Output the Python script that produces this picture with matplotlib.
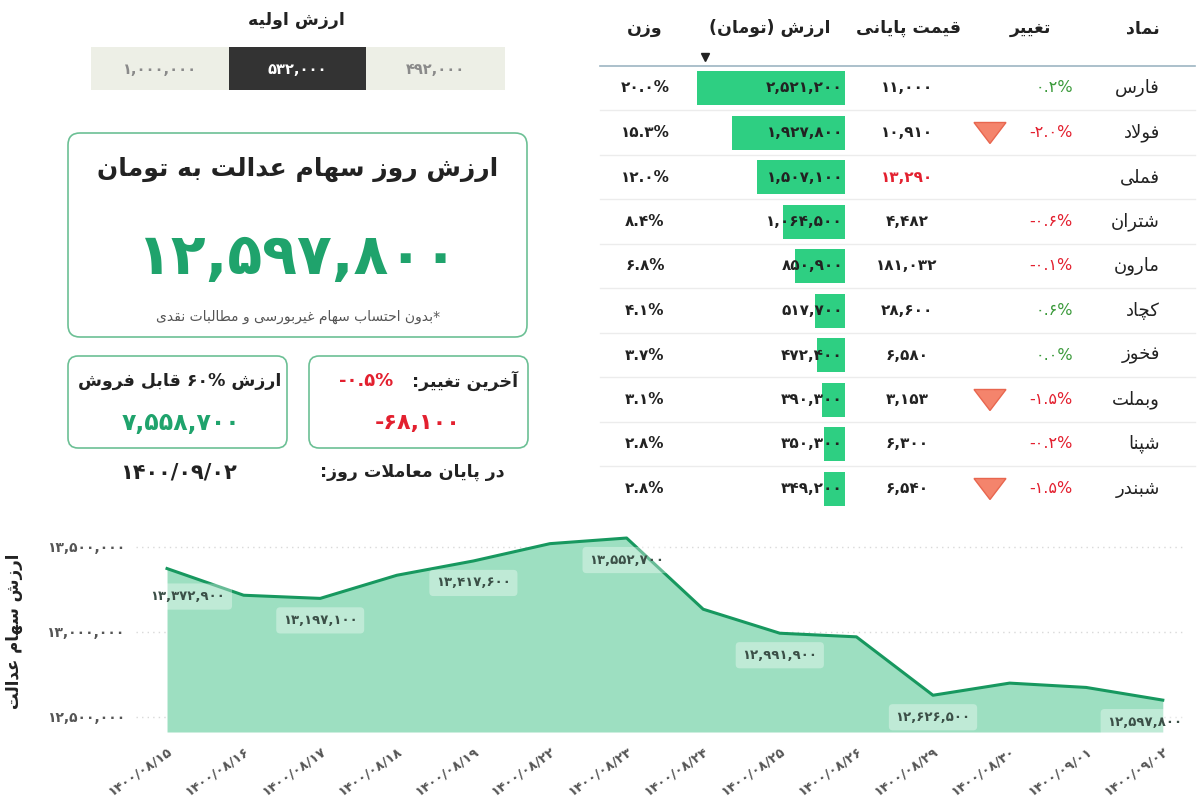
import matplotlib
matplotlib.use('Agg')
import matplotlib.pyplot as plt
from matplotlib.patches import FancyBboxPatch, Rectangle, Polygon

# ---------------- data ----------------
initial_title = 'ارزش اولیه'
initial_values = [1000000, 532000, 492000]
selected_initial = 532000

card_title = 'ارزش روز سهام عدالت به تومان'
total_value = 12597800
footnote = '*بدون احتساب سهام غیربورسی و مطالبات نقدی'
sellable_title = 'ارزش ۶۰% قابل فروش'
sellable_value = 7558700
last_change_title = 'آخرین تغییر:'
last_change_pct = -0.5
last_change_value = -68100
end_of_day_label = 'در پایان معاملات روز:'
end_of_day_date = '1400/09/02'

table_headers = ['نماد', 'تغییر', 'قیمت پایانی', 'ارزش (تومان)', 'وزن']
symbols = ['فارس', 'فولاد', 'فملی', 'شتران', 'مارون', 'کچاد', 'فخوز', 'وبملت', 'شپنا', 'شبندر']
changes = [0.2, -2.0, None, -0.6, -0.1, 0.6, 0.0, -1.5, -0.2, -1.5]
prices = [11000, 10910, 13290, 4482, 181032, 28600, 6580, 3153, 6300, 6540]
values = [2521200, 1927800, 1507100, 1064500, 850900, 517700, 472400, 390300, 350300, 349200]
weights = [20.0, 15.3, 12.0, 8.4, 6.8, 4.1, 3.7, 3.1, 2.8, 2.8]
alert = [False, True, False, False, False, False, False, True, False, True]
price_red = [False, False, True, False, False, False, False, False, False, False]

dates = ['1400/08/15', '1400/08/16', '1400/08/17', '1400/08/18', '1400/08/19', '1400/08/22',
         '1400/08/23', '1400/08/24', '1400/08/25', '1400/08/26', '1400/08/29', '1400/08/30',
         '1400/09/01', '1400/09/02']
chart_values = [13372900, 13215700, 13197100, 13333300, 13417600, 13519600, 13552700,
                13133300, 12991900, 12970600, 12626500, 12698000, 12672500, 12597800]
labeled_points = [0, 2, 4, 6, 8, 10, 13]
y_label = 'ارزش سهام عدالت'
y_ticks = [12500000, 13000000, 13500000]

# ---------------- Persian text helpers ----------------
FA = str.maketrans('0123456789', '۰۱۲۳۴۵۶۷۸۹')


def fa(s):
    return str(s).translate(FA)


def fnum(n):
    return fa(f'{n:,}')


FORMS = {
    'ا': ('\uFE8D', '\uFE8E', None, None), 'آ': ('\uFE81', '\uFE82', None, None),
    'ب': ('\uFE8F', '\uFE90', '\uFE91', '\uFE92'), 'پ': ('\uFB56', '\uFB57', '\uFB58', '\uFB59'),
    'ت': ('\uFE95', '\uFE96', '\uFE97', '\uFE98'), 'ث': ('\uFE99', '\uFE9A', '\uFE9B', '\uFE9C'),
    'ج': ('\uFE9D', '\uFE9E', '\uFE9F', '\uFEA0'), 'چ': ('\uFB7A', '\uFB7B', '\uFB7C', '\uFB7D'),
    'ح': ('\uFEA1', '\uFEA2', '\uFEA3', '\uFEA4'), 'خ': ('\uFEA5', '\uFEA6', '\uFEA7', '\uFEA8'),
    'د': ('\uFEA9', '\uFEAA', None, None), 'ذ': ('\uFEAB', '\uFEAC', None, None),
    'ر': ('\uFEAD', '\uFEAE', None, None), 'ز': ('\uFEAF', '\uFEB0', None, None),
    'ژ': ('\uFB8A', '\uFB8B', None, None),
    'س': ('\uFEB1', '\uFEB2', '\uFEB3', '\uFEB4'), 'ش': ('\uFEB5', '\uFEB6', '\uFEB7', '\uFEB8'),
    'ص': ('\uFEB9', '\uFEBA', '\uFEBB', '\uFEBC'), 'ض': ('\uFEBD', '\uFEBE', '\uFEBF', '\uFEC0'),
    'ط': ('\uFEC1', '\uFEC2', '\uFEC3', '\uFEC4'), 'ظ': ('\uFEC5', '\uFEC6', '\uFEC7', '\uFEC8'),
    'ع': ('\uFEC9', '\uFECA', '\uFECB', '\uFECC'), 'غ': ('\uFECD', '\uFECE', '\uFECF', '\uFED0'),
    'ف': ('\uFED1', '\uFED2', '\uFED3', '\uFED4'), 'ق': ('\uFED5', '\uFED6', '\uFED7', '\uFED8'),
    'ک': ('\uFB8E', '\uFB8F', '\uFB90', '\uFB91'), 'گ': ('\uFB92', '\uFB93', '\uFB94', '\uFB95'),
    'ل': ('\uFEDD', '\uFEDE', '\uFEDF', '\uFEE0'), 'م': ('\uFEE1', '\uFEE2', '\uFEE3', '\uFEE4'),
    'ن': ('\uFEE5', '\uFEE6', '\uFEE7', '\uFEE8'), 'ه': ('\uFEE9', '\uFEEA', '\uFEEB', '\uFEEC'),
    'و': ('\uFEED', '\uFEEE', None, None), 'ی': ('\uFBFC', '\uFBFD', '\uFBFE', '\uFBFF'),
}
LTR = set('0123456789۰۱۲۳۴۵۶۷۸۹.,%/-')
MIRROR = {'(': ')', ')': '('}


def shape(s):
    toks = []
    i = 0
    while i < len(s):
        c = s[i]
        if c == 'ل' and i + 1 < len(s) and s[i + 1] in ('ا', 'آ'):
            toks.append('LA' if s[i + 1] == 'ا' else 'LAA')
            i += 2
        else:
            toks.append(c)
            i += 1
    out = []
    for k, t in enumerate(toks):
        prev = toks[k - 1] if k > 0 else None
        nxt = toks[k + 1] if k + 1 < len(toks) else None
        prev_j = prev in FORMS and FORMS[prev][2] is not None
        if t in ('LA', 'LAA'):
            iso, fin = ('\uFEFB', '\uFEFC') if t == 'LA' else ('\uFEF5', '\uFEF6')
            out.append(fin if prev_j else iso)
            continue
        if t not in FORMS:
            out.append(t)
            continue
        f = FORMS[t]
        next_j = f[2] is not None and (nxt in FORMS or nxt in ('LA', 'LAA'))
        if prev_j and next_j:
            out.append(f[3])
        elif prev_j:
            out.append(f[1])
        elif next_j:
            out.append(f[2])
        else:
            out.append(f[0])
    return out


def rtl(s):
    g = shape(s)
    runs = []
    for c in g:
        if c in LTR:
            if runs and runs[-1][0] == 'L':
                runs[-1][1].append(c)
            else:
                runs.append(['L', [c]])
        else:
            runs.append(['R', [c]])
    out = []
    for typ, cs in reversed(runs):
        if typ == 'L':
            out.extend(cs)
        else:
            out.extend(MIRROR.get(c, c) for c in cs)
    return ''.join(out)


# ---------------- colours ----------------
GREEN = '#1fa36c'
RED = '#e3202f'
BAR = '#2ecf82'
POS = '#3b9a3b'
DARK = '#222222'
CARD_EDGE = '#6cc095'

plt.rcParams['font.family'] = ['DejaVu Sans']
fig = plt.figure(figsize=(12, 8), dpi=100)
fig.patch.set_facecolor('white')

ax0 = fig.add_axes([0, 0, 1, 1])
ax0.set_xlim(0, 1200)
ax0.set_ylim(800, 0)
ax0.axis('off')

# ---------- initial value selector ----------
ax0.text(296, 20, rtl(initial_title), ha='center', va='center', fontsize=12.5, fontweight='bold', color=DARK)
seg_x = [91, 229, 366]
seg_w = [138, 137, 139]
for x, w, v in zip(seg_x, seg_w, initial_values):
    sel = v == selected_initial
    ax0.add_patch(Rectangle((x, 47), w, 43, facecolor='#333333' if sel else '#edefe6', edgecolor='none'))
    ax0.text(x + w / 2, 69, fnum(v), ha='center', va='center', fontsize=10.5,
             fontweight='bold', color='white' if sel else '#8a8a8a')

# ---------- main card ----------
ax0.add_patch(FancyBboxPatch((68, 133), 459, 204, boxstyle='round,pad=0,rounding_size=12',
                             facecolor='white', edgecolor=CARD_EDGE, linewidth=1.2))
ax0.text(298, 169, rtl(card_title), ha='center', va='center', fontsize=18, fontweight='bold', color=DARK)
ax0.text(298, 259, fnum(total_value), ha='center', va='center', fontsize=41, fontweight='bold', color=GREEN)
ax0.text(298, 317, rtl(footnote), ha='center', va='center', fontsize=10, color='#555555')

# ---------- small cards ----------
for x in (68, 309):
    ax0.add_patch(FancyBboxPatch((x, 356), 219, 92, boxstyle='round,pad=0,rounding_size=10',
                                 facecolor='white', edgecolor=CARD_EDGE, linewidth=1.2))
ax0.text(180, 381, rtl(sellable_title), ha='center', va='center', fontsize=12.5, fontweight='bold', color=DARK)
ax0.text(181, 423, fnum(sellable_value), ha='center', va='center', fontsize=17, fontweight='bold', color=GREEN)
ax0.text(518, 381, rtl(last_change_title), ha='right', va='center', fontsize=12.5, fontweight='bold', color=DARK)
ax0.text(393, 381, fa(f'{last_change_pct:.1f}%'), ha='right', va='center', fontsize=13, fontweight='bold', color=RED)
ax0.text(418, 423, fnum(last_change_value), ha='center', va='center', fontsize=16, fontweight='bold', color=RED)

ax0.text(178, 472, fa(end_of_day_date), ha='center', va='center', fontsize=15, fontweight='bold', color=DARK)
ax0.text(505, 472, rtl(end_of_day_label), ha='right', va='center', fontsize=12.5, fontweight='bold', color=DARK)

# ---------- table ----------
ROW0 = 88
ROWH = 44.5
head_x = [1160, 1030, 908, 770, 645]
head_ha = ['right', 'center', 'center', 'center', 'center']
for t, x, ha in zip(table_headers, head_x, head_ha):
    ax0.text(x, 28, rtl(t), ha=ha, va='center', fontsize=12.5, fontweight='bold', color=DARK)
ax0.plot([705], [57], marker='v', markersize=6, color=DARK)
ax0.plot([600, 1195], [66, 66], color='#9db5c2', linewidth=1.2)

n = len(symbols)
for i in range(n):
    y = ROW0 + ROWH * i
    if i < n - 1:
        ax0.plot([600, 1195], [y + ROWH / 2, y + ROWH / 2], color='#ececec', linewidth=1)
    ax0.text(1160, y, rtl(symbols[i]), ha='right', va='center', fontsize=13, color=DARK)
    if changes[i] is not None:
        ax0.text(1073, y, fa(f'{changes[i]:.1f}%'), ha='right', va='center', fontsize=11.5,
                 color=POS if changes[i] >= 0 else RED)
    if alert[i]:
        ax0.add_patch(Polygon([(974, y - 10), (1006, y - 10), (990, y + 11)], closed=True,
                              facecolor='#f4846c', edgecolor='#e8664f', linewidth=1))
    ax0.text(907, y, fnum(prices[i]), ha='center', va='center', fontsize=11, fontweight='bold',
             color=RED if price_red[i] else DARK)
    ax0.text(645, y, fa(f'{weights[i]:.1f}%'), ha='center', va='center', fontsize=11, fontweight='bold', color=DARK)

# value bars (own axes, growing leftwards)
axb = fig.add_axes([690 / 1200, 1 - (66 + ROWH * n) / 800, 155 / 1200, ROWH * n / 800])
axb.barh(range(n), values, height=0.77, color=BAR)
axb.set_xlim(2.64e6, 0)
axb.set_ylim(n - 0.5, -0.5)
axb.axis('off')

ax_txt = fig.add_axes([0, 0, 1, 1], facecolor='none')
ax_txt.set_xlim(0, 1200)
ax_txt.set_ylim(800, 0)
ax_txt.axis('off')
for i in range(n):
    y = ROW0 + ROWH * i
    ax_txt.text(843, y, fnum(values[i]), ha='right', va='center', fontsize=11, fontweight='bold', color=DARK)

# ---------- line chart ----------
axc = fig.add_axes([136 / 1200, 1 - 732 / 800, (1185 - 136) / 1200, (732 - 530) / 800], facecolor='none')
xs = list(range(len(chart_values)))
ymin, ymax = 12410000, 13600000
axc.fill_between(xs, chart_values, ymin, color='#9ddfc1', linewidth=0)
axc.plot(xs, chart_values, color='#17985f', linewidth=2.2)
axc.set_xlim(-0.405, len(xs) - 1 + 0.29)
axc.set_ylim(ymin, ymax)
for yt in y_ticks:
    axc.axhline(yt, color='#d9d9d9', linestyle=(0, (1, 3)), linewidth=1, zorder=0)
axc.set_yticks(y_ticks)
axc.set_yticklabels([fnum(v) for v in y_ticks], fontsize=10, fontweight='bold', color='#555555')
axc.set_xticks(xs)
axc.set_xticklabels([fa(d) for d in dates], rotation=35, ha='right', rotation_mode='anchor',
                    fontsize=9.5, fontweight='bold', color='#555555')
axc.tick_params(axis='both', length=0)
axc.tick_params(axis='y', pad=8)
axc.tick_params(axis='x', pad=9)
for s in axc.spines.values():
    s.set_visible(False)
axc.set_ylabel(rtl(y_label), fontsize=12, fontweight='bold', color=DARK)
axc.yaxis.set_label_coords(-0.108, 0.50)

offsets = {0: (21, -28), 13: (-18, -22)}
for i in labeled_points:
    dx, dy = offsets.get(i, (0, -22))
    axc.annotate(fnum(chart_values[i]), (xs[i], chart_values[i]), xytext=(dx, dy),
                 textcoords='offset pixels', ha='center', va='center', fontsize=9.5,
                 fontweight='bold', color='#3b4f47',
                 bbox=dict(boxstyle='round,pad=0.5,rounding_size=0.3', facecolor='white',
                           alpha=0.35, edgecolor='none'))

fig.savefig('out.png', dpi=100, facecolor='white')
